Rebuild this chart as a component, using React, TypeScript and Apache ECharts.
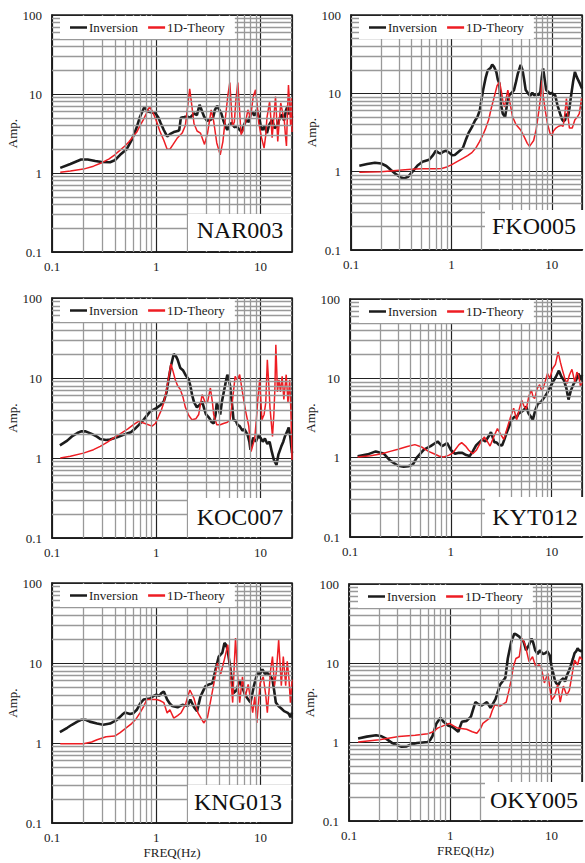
import React, { useEffect, useRef } from "react";
import * as echarts from "echarts";

type Pt = [number, number];

const stationNames = ["NAR003", "FKO005", "KOC007", "KYT012", "KNG013", "OKY005"];
const seriesNames = ["Inversion", "1D-Theory"];
const xMinorLines = [0.2, 0.3, 0.4, 0.5, 0.6, 0.7, 0.8, 0.9, 2, 3, 4, 5, 6, 7, 8, 9];
const yMinorLines = [0.2, 0.3, 0.4, 0.5, 0.6, 0.7, 0.8, 0.9, 2, 3, 4, 5, 6, 7, 8, 9, 20, 30, 40, 50, 60, 70, 80, 90];

const nar003Inv: Pt[] = [[0.12,1.16],[0.15,1.3],[0.19,1.48],[0.22,1.48],[0.26,1.42],[0.3,1.38],[0.36,1.37],[0.4,1.45],[0.45,1.7],[0.52,2.0],[0.58,2.6],[0.64,3.6],[0.7,5.2],[0.77,6.9],[0.83,6.0],[0.92,5.8],[0.98,5.7],[1.05,5.0],[1.1,4.3],[1.18,3.5],[1.27,2.9],[1.35,3.1],[1.47,3.3],[1.6,3.4],[1.66,3.5],[1.72,5.0],[1.85,5.1],[1.97,5.2],[2.1,5.0],[2.3,5.7],[2.45,5.4],[2.6,7.3],[2.75,6.0],[2.87,5.2],[3.05,4.6],[3.3,4.7],[3.5,5.0],[3.65,6.3],[3.83,7.1],[4.0,6.4],[4.2,5.7],[4.4,4.6],[4.6,3.9],[4.8,3.5],[5.0,4.1],[5.3,4.3],[5.6,3.8],[5.9,3.9],[6.2,3.6],[6.6,3.3],[6.9,4.0],[7.3,4.7],[7.7,4.4],[8.0,5.6],[8.3,6.0],[8.7,5.3],[9.2,6.3],[9.7,5.0],[10.0,4.0],[10.4,3.5],[10.9,3.9],[11.5,3.2],[12.1,4.1],[12.9,4.7],[13.6,3.7],[14.4,3.9],[15.2,4.9],[16.0,5.5],[16.8,4.6],[17.5,6.2],[18.1,7.0],[18.8,5.5],[19.4,6.4],[20,5.0]];
const nar003Th: Pt[] = [[0.12,1.02],[0.15,1.06],[0.2,1.12],[0.25,1.22],[0.3,1.35],[0.35,1.5],[0.4,1.7],[0.45,1.95],[0.5,2.2],[0.55,2.5],[0.6,2.9],[0.65,3.3],[0.7,4.0],[0.75,4.7],[0.8,5.6],[0.86,6.9],[0.92,6.0],[1.0,4.6],[1.08,3.4],[1.18,2.6],[1.27,2.0],[1.35,2.0],[1.45,2.3],[1.6,2.8],[1.77,3.2],[1.9,4.0],[2.0,7.0],[2.09,11.6],[2.18,7.5],[2.3,4.2],[2.46,3.4],[2.65,3.2],[2.9,2.3],[3.1,3.2],[3.36,6.3],[3.55,4.5],[3.8,2.4],[4.1,1.7],[4.35,2.5],[4.6,5.0],[4.85,9.5],[5.07,14],[5.2,8],[5.37,3.9],[5.6,4.4],[5.8,8.5],[6.05,14],[6.25,7],[6.5,3.05],[6.8,3.5],[7.2,4.5],[7.55,6.3],[8.0,5.0],[8.5,9.3],[8.95,11.3],[9.3,7.0],[9.6,4.3],[10.2,2.8],[10.8,2.07],[11.2,3.0],[11.5,5.0],[12.2,8.0],[12.6,4.5],[12.9,2.8],[13.4,5.0],[13.9,9.3],[14.3,4.5],[14.6,2.5],[15.1,4.5],[15.6,7.7],[16.2,6.0],[16.9,4.5],[17.3,3.0],[17.7,2.2],[18.1,6],[18.5,13],[18.9,8],[19.4,4.0],[19.7,9],[20,3.3]];

const fko005Inv: Pt[] = [[0.121,1.19],[0.145,1.25],[0.173,1.3],[0.2,1.27],[0.225,1.18],[0.25,1.05],[0.28,0.93],[0.31,0.85],[0.34,0.82],[0.37,0.86],[0.41,1.0],[0.46,1.2],[0.515,1.34],[0.6,1.42],[0.65,1.6],[0.7,1.85],[0.74,1.75],[0.78,1.7],[0.83,1.8],[0.88,1.85],[0.95,1.75],[1.02,1.62],[1.08,1.63],[1.18,1.8],[1.3,2.0],[1.4,2.6],[1.48,3.1],[1.6,3.7],[1.72,4.5],[1.82,5.0],[1.92,6.1],[2.0,8.5],[2.07,11],[2.2,16],[2.3,19.7],[2.45,21],[2.55,23.3],[2.65,22],[2.8,18.8],[2.9,15],[3.0,13.4],[3.1,7.4],[3.25,5.5],[3.43,5.0],[3.6,7.5],[3.78,9.5],[3.95,10],[4.2,11],[4.4,14],[4.6,18],[4.9,23],[5.1,20],[5.3,15],[5.5,11],[5.8,10],[6.1,9.3],[6.4,10.2],[6.7,9.4],[7.0,9.8],[7.4,9.5],[7.7,10.5],[7.95,16],[8.2,20.8],[8.5,15],[8.8,11],[9.2,10.5],[9.6,9.8],[10.0,10.2],[10.4,9.6],[10.8,9.5],[11.4,7],[12.1,5.5],[12.7,4.6],[13.1,4.4],[13.6,4.6],[14.0,5.5],[14.5,5.0],[15.0,6.5],[15.6,9.5],[16.3,14],[17,18.8],[17.8,16],[19,13.4],[20,11.5]];
const fko005Th: Pt[] = [[0.121,0.98],[0.2,1.0],[0.3,1.04],[0.4,1.07],[0.5,1.09],[0.6,1.09],[0.7,1.09],[0.8,1.1],[0.9,1.15],[1.0,1.22],[1.15,1.35],[1.3,1.48],[1.45,1.6],[1.6,1.75],[1.75,2.0],[1.9,2.4],[2.05,2.9],[2.2,3.6],[2.35,4.6],[2.5,6.5],[2.7,9.5],[2.85,12.5],[3.02,14],[3.15,10.5],[3.28,7.5],[3.38,6.7],[3.5,8.5],[3.65,11],[3.8,8],[4.07,5.0],[4.4,4.0],[4.9,3.4],[5.3,2.8],[5.7,2.3],[6.0,2.1],[6.3,2.3],[6.6,2.5],[7.0,3.5],[7.45,6.1],[7.75,9],[8.0,14.7],[8.25,9],[8.6,6.1],[9.1,4.0],[9.6,3.1],[10.0,2.9],[10.4,3.3],[11.0,3.6],[11.7,3.8],[12.4,3.9],[13.0,3.8],[13.5,5.5],[14.0,8.6],[14.5,5],[15.0,3.6],[16.0,3.6],[16.5,4.1],[17,4.6],[18,5.0],[18.8,5.5],[19.8,8.6],[20,8.6]];

const koc007Inv: Pt[] = [[0.119,1.44],[0.14,1.65],[0.155,1.86],[0.175,2.05],[0.19,2.15],[0.21,2.15],[0.24,2.0],[0.27,1.85],[0.29,1.73],[0.33,1.68],[0.36,1.7],[0.42,1.82],[0.485,1.95],[0.57,2.1],[0.62,2.3],[0.68,2.6],[0.755,3.0],[0.87,3.8],[1.0,4.2],[1.1,4.6],[1.18,5.1],[1.25,6.5],[1.31,9.5],[1.38,14],[1.47,20],[1.55,18.5],[1.6,17],[1.7,13.3],[1.8,12.5],[1.9,11],[2.05,9.5],[2.12,8.0],[2.2,6.2],[2.3,5.0],[2.45,4.3],[2.6,4.6],[2.75,5.1],[2.9,4.0],[3.0,3.5],[3.2,3.2],[3.4,2.8],[3.55,2.7],[3.7,3.5],[3.8,4.9],[3.95,4.2],[4.1,3.5],[4.25,5.0],[4.4,6.3],[4.6,8.5],[4.8,11],[4.95,9.5],[5.1,8.0],[5.3,5.0],[5.5,3.0],[5.8,2.9],[6.0,2.6],[6.3,2.5],[6.7,2.2],[7.0,2.3],[7.5,1.95],[7.8,1.6],[8.0,1.27],[8.3,1.6],[8.5,1.8],[9.0,1.6],[9.5,1.9],[10,1.78],[10.5,1.6],[11.0,1.75],[11.6,1.5],[12.2,1.6],[12.8,1.2],[13.4,0.95],[14.2,0.82],[14.8,1.1],[15.8,1.4],[16.5,1.6],[17.2,1.9],[18,2.15],[18.6,2.4],[19.3,1.8],[20,1.15]];
const koc007Th: Pt[] = [[0.12,1.0],[0.15,1.05],[0.2,1.15],[0.25,1.27],[0.29,1.4],[0.34,1.58],[0.39,1.78],[0.45,2.0],[0.53,2.3],[0.6,2.6],[0.675,2.87],[0.78,2.7],[0.91,2.5],[0.98,2.7],[1.05,3.3],[1.12,4.0],[1.18,4.9],[1.25,7.0],[1.3,9.5],[1.38,15],[1.45,12],[1.52,9.5],[1.6,8],[1.7,7.2],[1.8,5.8],[1.9,4.3],[2.05,3.4],[2.2,3.0],[2.4,3.1],[2.55,3.5],[2.75,6.2],[2.95,4.9],[3.1,5.0],[3.3,7.5],[3.45,5.0],[3.55,3.5],[3.8,2.6],[4.1,2.6],[4.4,2.7],[4.8,2.8],[5.1,3.0],[5.4,5.5],[5.7,10.5],[5.95,9.5],[6.3,11],[6.55,8],[6.8,5.9],[7.2,3.8],[7.7,2.5],[8.1,1.2],[8.5,1.5],[8.8,1.8],[9.1,3.0],[9.4,5.4],[9.8,9.5],[10.3,3.0],[10.8,3.5],[11.2,4.9],[11.6,16.9],[12.0,8],[12.3,4.3],[13.0,1.86],[13.4,3.5],[13.7,7.2],[14.0,26],[14.3,12],[14.5,6.7],[15.0,9.5],[15.5,6.7],[16.1,10.5],[16.7,5.4],[17.6,11],[18.3,4.9],[19.0,9.5],[19.5,4],[20,0.95]];

const kyt012Inv: Pt[] = [[0.119,1.04],[0.15,1.1],[0.18,1.2],[0.215,1.13],[0.25,0.92],[0.3,0.79],[0.34,0.77],[0.38,0.78],[0.42,0.82],[0.46,1.0],[0.54,1.26],[0.63,1.4],[0.74,1.6],[0.82,1.4],[0.92,1.53],[1.0,1.25],[1.1,1.12],[1.2,1.15],[1.3,1.15],[1.42,1.08],[1.54,1.05],[1.65,1.2],[1.78,1.43],[1.92,1.57],[2.05,1.7],[2.2,1.6],[2.4,1.9],[2.5,2.1],[2.7,1.57],[2.85,1.55],[3.0,1.45],[3.23,1.43],[3.4,1.7],[3.6,2.1],[3.8,2.5],[4.0,3.0],[4.3,3.3],[4.5,3.2],[4.7,3.6],[5.04,3.8],[5.3,4.0],[5.6,4.4],[5.9,3.6],[6.2,3.3],[6.5,3.0],[6.9,4.0],[7.3,4.8],[7.8,5.0],[8.5,5.8],[9.0,6.5],[9.7,7.8],[10.3,9.0],[11.0,10.4],[11.8,12.5],[12.5,10.5],[13.2,9.5],[14.0,7.5],[14.7,5.4],[15.5,7.0],[16.5,8.5],[17.5,9.5],[18.5,11.5],[19.3,9.5],[20,11]];
const kyt012Th: Pt[] = [[0.119,1.02],[0.16,1.06],[0.207,1.12],[0.25,1.2],[0.3,1.28],[0.37,1.38],[0.44,1.46],[0.52,1.35],[0.6,1.2],[0.68,1.12],[0.76,1.05],[0.85,1.02],[0.95,1.07],[1.05,1.15],[1.1,1.25],[1.2,1.45],[1.28,1.55],[1.4,1.4],[1.5,1.25],[1.65,1.12],[1.8,1.25],[2.0,1.6],[2.15,1.82],[2.3,1.6],[2.45,1.4],[2.65,1.8],[2.9,2.33],[3.1,2.0],[3.35,1.7],[3.6,2.3],[3.9,3.2],[4.2,4.2],[4.5,3.0],[4.75,4.0],[5.05,5.3],[5.3,4.5],[5.6,4.1],[5.95,6.0],[6.3,7.1],[6.55,5.8],[6.8,5.6],[7.2,7.5],[7.6,8.3],[7.95,7.0],[8.3,7.7],[8.7,9.5],[9.1,11.5],[9.6,10],[10.2,13.2],[10.9,15],[11.6,21.6],[12.2,16],[12.8,12.7],[13.5,10],[14.2,8.6],[15.0,11],[15.9,13],[16.5,10.5],[17,9],[17.8,12],[18.5,11],[19.3,8],[20,9]];

const kng013Inv: Pt[] = [[0.119,1.37],[0.14,1.55],[0.155,1.69],[0.175,1.85],[0.19,1.95],[0.21,1.95],[0.23,1.85],[0.27,1.75],[0.31,1.69],[0.36,1.75],[0.42,1.95],[0.47,2.25],[0.5,2.4],[0.56,2.3],[0.6,2.35],[0.65,2.6],[0.7,3.1],[0.755,3.5],[0.87,3.6],[0.95,3.9],[1.0,4.0],[1.07,3.9],[1.12,4.2],[1.18,4.4],[1.27,3.5],[1.35,3.1],[1.42,2.9],[1.6,2.8],[1.78,3.0],[2.0,2.9],[2.12,3.5],[2.3,2.8],[2.46,2.5],[2.65,3.8],[2.95,5.1],[3.2,5.4],[3.45,5.6],[3.7,8.3],[3.97,12],[4.3,13.5],[4.5,17.8],[4.65,17],[4.8,15],[5.1,9.1],[5.3,6],[5.5,4.2],[5.9,4.6],[6.3,6.1],[6.6,5.2],[7.1,4.0],[7.5,3.6],[8.0,3.2],[8.6,5.1],[9.3,7.5],[9.8,7.2],[10.4,8.3],[11.0,7.3],[11.6,7.5],[12.3,7.0],[13.0,6.2],[13.5,4.5],[14.0,3.2],[14.8,2.9],[15.8,2.7],[16.8,2.5],[18.0,2.4],[18.7,2.3],[19.3,2.1],[20,2.4]];
const kng013Th: Pt[] = [[0.12,0.98],[0.2,0.98],[0.24,1.03],[0.27,1.1],[0.33,1.2],[0.4,1.22],[0.45,1.35],[0.5,1.5],[0.58,1.75],[0.64,2.0],[0.7,2.4],[0.76,2.9],[0.81,3.5],[0.9,3.5],[1.0,3.5],[1.08,3.4],[1.18,3.2],[1.27,2.37],[1.35,2.6],[1.47,2.05],[1.6,2.2],[1.72,2.37],[1.9,3.0],[2.0,3.8],[2.1,4.6],[2.3,3.6],[2.5,2.4],[2.85,1.78],[3.1,2.1],[3.4,4.0],[3.65,6.5],[3.85,10],[4.15,7.3],[4.45,10.5],[4.85,16.9],[5.1,8.3],[5.4,3.2],[5.6,10],[5.75,20.5],[6.1,5.2],[6.3,3.2],[6.7,6.7],[7.1,3.7],[7.6,5.4],[8.4,2.4],[8.8,3.8],[9.2,1.78],[9.9,5.6],[10.6,6.7],[11.2,4],[11.6,2.4],[12.5,8.3],[13,12],[13.6,5.2],[14.2,8],[14.9,19.5],[15.8,5.2],[16.5,12],[17.4,5.2],[18,10.5],[18.7,6.4],[19.3,3.2],[20,6.2]];

const oky005Inv: Pt[] = [[0.123,1.11],[0.15,1.17],[0.185,1.22],[0.21,1.18],[0.23,1.11],[0.27,0.96],[0.33,0.87],[0.37,0.88],[0.41,0.93],[0.47,0.97],[0.6,1.0],[0.63,1.05],[0.67,1.2],[0.73,1.72],[0.8,2.03],[0.86,1.8],[0.95,1.62],[1.05,1.55],[1.12,1.45],[1.2,1.35],[1.3,1.8],[1.45,1.85],[1.6,2.1],[1.77,3.2],[1.9,3.0],[2.05,2.9],[2.3,3.2],[2.5,2.7],[2.8,3.5],[3.1,5.3],[3.5,6.5],[3.7,11.4],[4.0,18.6],[4.3,23.6],[4.46,23],[4.8,21.6],[5.0,20],[5.3,18.6],[5.6,14.5],[6.0,17],[6.35,20.4],[6.6,18],[6.9,14.5],[7.3,13],[7.7,14.5],[8.2,13],[8.65,13.3],[9.1,14],[9.6,12.5],[10.0,9],[10.4,7.4],[10.8,6],[11.2,5.5],[11.7,5.3],[12.3,6],[13.1,6.4],[13.6,5.8],[14.2,7],[14.9,8],[15.6,9.5],[16.3,11.4],[16.9,13.3],[17.5,14],[18.1,15.3],[18.7,14.5],[20,14]];
const oky005Th: Pt[] = [[0.123,1.0],[0.2,1.07],[0.31,1.17],[0.45,1.22],[0.6,1.27],[0.68,1.35],[0.75,1.5],[0.85,1.6],[0.98,1.72],[1.08,1.6],[1.18,1.5],[1.45,1.45],[1.65,1.35],[1.83,1.29],[2.0,1.5],[2.1,1.72],[2.45,2.0],[2.6,2.5],[2.75,2.94],[3.1,2.85],[3.57,3.2],[3.8,4.5],[4.0,6.1],[4.2,9],[4.45,11.4],[4.8,12],[5.1,20.4],[5.3,19],[5.5,16.8],[6.0,10.4],[6.5,12],[7.0,8.9],[7.5,9.5],[7.9,8.9],[8.5,5.6],[9.2,7.4],[9.6,5],[10,3.4],[10.7,3.8],[11.5,5.3],[12.2,3.2],[13.1,5.1],[14.1,3.9],[15.0,4.5],[15.7,6.3],[16.9,10.9],[18.1,9.5],[19,12],[20,11]];

const inversionData = [nar003Inv, fko005Inv, koc007Inv, kyt012Inv, kng013Inv, oky005Inv];
const theoryData = [nar003Th, fko005Th, koc007Th, kyt012Th, kng013Th, oky005Th];

// layout (pixels)
const gridBoxes = [
  { left: 52, top: 15, width: 240, height: 237 },
  { left: 351, top: 15, width: 236, height: 235 },
  { left: 52, top: 298, width: 240, height: 240 },
  { left: 350, top: 299, width: 238, height: 238 },
  { left: 52, top: 583, width: 240, height: 240 },
  { left: 349, top: 584, width: 238, height: 237 },
];
const legendPos = [
  { left: 60, top: 16 }, { left: 359, top: 16 },
  { left: 60, top: 299 }, { left: 359, top: 300 },
  { left: 60, top: 584 }, { left: 358, top: 585 },
];
const labelBoxes = [
  { x: 188, y: 214, w: 103, h: 37, tx: 240, ty: 229.5 },
  { x: 485, y: 210, w: 110, h: 39, tx: 534, ty: 226 },
  { x: 188, y: 498, w: 103, h: 39, tx: 240, ty: 516.7 },
  { x: 485, y: 497, w: 110, h: 39, tx: 535, ty: 516.7 },
  { x: 188, y: 785, w: 103, h: 37, tx: 238, ty: 801.7 },
  { x: 485, y: 782, w: 110, h: 38, tx: 534, ty: 799.5 },
];

const FONT = "'Liberation Serif', 'Times New Roman', serif";
const TXT = "#222";
const INV_COLOR = "#1c1c1c";
const TH_COLOR = "#ee1d23";

const decadeLabel = (v: number) => {
  const l = Math.log10(v);
  if (Math.abs(l - Math.round(l)) > 1e-6) return "";
  return String(Number(v.toPrecision(6)));
};

export default function App() {
  const ref = useRef<HTMLDivElement>(null);
  useEffect(() => {
    document.body.style.margin = "0";
    if (!ref.current) return;
    const chart = echarts.init(ref.current, undefined, { renderer: "svg" });
    const grid: any[] = [];
    const xAxis: any[] = [];
    const yAxis: any[] = [];
    const series: any[] = [];
    const legend: any[] = [];
    const graphic: any[] = [];
    for (let i = 0; i < 6; i++) {
      const g = gridBoxes[i];
      grid.push({
        left: g.left, top: g.top, width: g.width, height: g.height,
        show: true, backgroundColor: "#fff", borderColor: "#1a1a1a", borderWidth: 1.5,
      });
      const bottomRow = i >= 4;
      xAxis.push({
        type: "log", logBase: 10, gridIndex: i, min: 0.1, max: 20,
        axisLine: { show: true, lineStyle: { color: "#1a1a1a", width: 1.5 } },
        axisTick: { show: false },
        splitLine: { show: true, lineStyle: { color: "#222", width: 1.2 } },
        axisLabel: { formatter: decadeLabel, fontFamily: FONT, fontSize: 13, color: TXT, margin: 8 },
        name: bottomRow ? "FREQ(Hz)" : "",
        nameLocation: "middle", nameGap: 23,
        nameTextStyle: { fontFamily: FONT, fontSize: 13, color: TXT },
      });
      yAxis.push({
        type: "log", logBase: 10, gridIndex: i, min: 0.1, max: 100,
        axisLine: { show: true, lineStyle: { color: "#1a1a1a", width: 1.5 } },
        axisTick: { show: false },
        splitLine: { show: true, lineStyle: { color: "#222", width: 1.2 } },
        axisLabel: { formatter: decadeLabel, fontFamily: FONT, fontSize: 13, color: TXT, margin: 10 },
        name: "Amp.", nameLocation: "middle", nameGap: 31,
        nameTextStyle: { fontFamily: FONT, fontSize: 13, color: TXT },
      });
      series.push({
        type: "line", name: "grid" + i, xAxisIndex: i, yAxisIndex: i, data: [],
        silent: true, z: 1, symbol: "none",
        markLine: {
          silent: true, symbol: ["none", "none"], label: { show: false },
          lineStyle: { color: "#999", width: 1.3, type: "solid" },
          emphasis: { disabled: true },
          data: [
            ...xMinorLines.map((v) => ({ xAxis: v })),
            ...yMinorLines.map((v) => ({ yAxis: v })),
          ],
        },
      });
      series.push({
        type: "line", name: seriesNames[0], xAxisIndex: i, yAxisIndex: i,
        data: inversionData[i], symbol: "none", showSymbol: false, z: 3,
        lineStyle: { color: INV_COLOR, width: 2.6 }, itemStyle: { color: INV_COLOR },
      });
      series.push({
        type: "line", name: seriesNames[1], xAxisIndex: i, yAxisIndex: i,
        data: theoryData[i], symbol: "none", showSymbol: false, z: 4,
        lineStyle: { color: TH_COLOR, width: 1.5 }, itemStyle: { color: TH_COLOR },
      });
      legend.push({
        left: legendPos[i].left, top: legendPos[i].top, z: 60,
        data: [
          { name: seriesNames[0], icon: "rect", itemStyle: { color: INV_COLOR } },
          { name: seriesNames[1], icon: "rect", itemStyle: { color: TH_COLOR } },
        ],
        selectedMode: false,
        backgroundColor: "#fff", padding: [5, 10, 5, 10], itemGap: 10,
        itemWidth: 17, itemHeight: 2.5,
        inactiveColor: TXT,
        textStyle: { fontFamily: FONT, fontSize: 13, color: TXT, padding: [0, 0, 0, -3] },
      });
      const b = labelBoxes[i];
      graphic.push({ type: "rect", z: 100, shape: { x: b.x, y: b.y, width: b.w, height: b.h }, style: { fill: "#fff" } });
      graphic.push({
        type: "text", z: 101, x: b.tx, y: b.ty,
        style: { text: stationNames[i], fontFamily: FONT, fontSize: 24, fill: "#111", align: "center", verticalAlign: "middle" },
      });
    }
    chart.setOption({
      animation: false,
      backgroundColor: "#fff",
      grid, xAxis, yAxis, series, legend, graphic,
    });
    return () => chart.dispose();
  }, []);
  return <div ref={ref} style={{ width: 585, height: 863 }} />;
}
